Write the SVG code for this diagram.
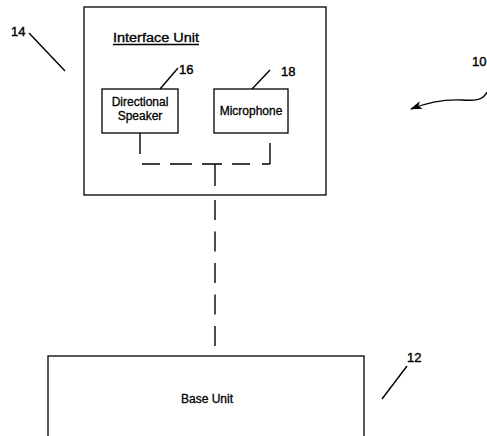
<svg xmlns="http://www.w3.org/2000/svg" width="487" height="436" viewBox="0 0 487 436">
<style>
.box{fill:none;stroke:#000;stroke-width:1.3}
.ln{fill:none;stroke:#000;stroke-width:1.4}
.t{font-family:"Liberation Sans",Arial,sans-serif;font-size:12px;fill:#000;stroke:#000;stroke-width:0.3}
.num{font-family:"Liberation Sans",Arial,sans-serif;font-size:13px;fill:#000;stroke:#000;stroke-width:0.4}
</style>
<defs>
<marker id="ah" markerWidth="12" markerHeight="8" refX="11" refY="4" orient="auto" markerUnits="userSpaceOnUse">
<path d="M0,0 L12,4 L0,8 L3,4 Z" fill="#000"/>
</marker>
</defs>
<rect width="487" height="436" fill="#fff"/>

<g id="interface-unit">
<rect class="box" x="84" y="7" width="242" height="188"/>
<text class="t" x="113" y="42" font-size="13.5" textLength="86" lengthAdjust="spacingAndGlyphs">Interface Unit</text>
<line class="ln" x1="113" y1="44.5" x2="199" y2="44.5" stroke-width="1.1"/>
</g>

<g id="directional-speaker">
<rect class="box" x="102" y="89" width="76" height="44"/>
<text class="t" x="140" y="106" text-anchor="middle">Directional</text>
<text class="t" x="140" y="120" text-anchor="middle">Speaker</text>
</g>

<g id="microphone">
<rect class="box" x="214" y="89" width="74" height="44"/>
<text class="t" x="251" y="115" text-anchor="middle">Microphone</text>
</g>

<g id="base-unit">
<rect class="box" x="48" y="356" width="316" height="100"/>
<text class="t" x="207" y="403" text-anchor="middle">Base Unit</text>
</g>

<g id="connectors">
<line class="ln" x1="140" y1="133" x2="140" y2="154"/>
<line class="ln" x1="270" y1="143" x2="270" y2="164"/>
<path class="ln" d="M142,164 H160 M170,164 H192 M202,164 H222 M232,164 H250 M262,164 H270"/>
<line class="ln" x1="215" y1="164" x2="215" y2="186"/>
<path class="ln" d="M215,200 V220 M215,231.5 V251.5 M215,263 V283 M215,294.5 V314.5 M215,326 V346"/>
</g>

<g id="labels">
<text class="num" x="11" y="36">14</text>
<line class="ln" x1="29" y1="33" x2="65" y2="71" stroke-width="1.2"/>
<text class="num" x="179" y="74">16</text>
<line class="ln" x1="160" y1="89" x2="178" y2="68" stroke-width="1.2"/>
<text class="num" x="281" y="76">18</text>
<line class="ln" x1="252" y1="89" x2="270" y2="70" stroke-width="1.2"/>
<text class="num" x="407" y="362">12</text>
<line class="ln" x1="382" y1="399" x2="407" y2="366" stroke-width="1.2"/>
<text class="num" x="472" y="66">10</text>
<path class="ln" d="M487,92 C483,100 476,101 462,100 C442,99 426,103 411,109" marker-end="url(#ah)"/>
</g>
</svg>
